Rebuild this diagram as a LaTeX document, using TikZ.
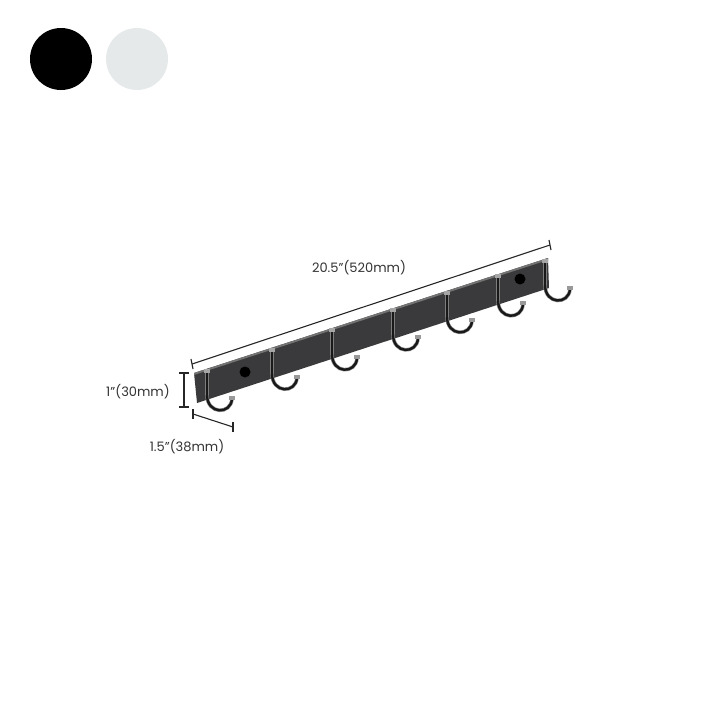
\documentclass[tikz,border=0pt]{standalone}
\usepackage{fontspec}
\setmainfont{Poppins}
\usetikzlibrary{calc}
\definecolor{railgray}{HTML}{3A3A3C}
\definecolor{swatchwhite}{HTML}{E6E9EA}
\tikzset{
  dimline/.style={draw=black!85,line width=1.1pt},
  dimlabel/.style={font=\fontsize{13}{15}\selectfont,text=black!80},
  hookedge/.style={draw=black!45,line width=3.6pt,line cap=round},
  hookline/.style={draw=black!90,line width=2.4pt,line cap=round},
}
\begin{document}
\begin{tikzpicture}[x=1pt,y=-1pt]
\useasboundingbox (0,0) rectangle (720,720);
% colour swatches
\node (blk) at (61,59) [fill=black,circle,minimum size=62pt,inner sep=0pt] {};
\node (wht) at (137,59) [fill=swatchwhite,circle,minimum size=62pt,inner sep=0pt] {};

% rail
\fill[railgray] (194,373) -- (548,258) -- (549,288) -- (197,403) -- cycle;
\fill[black!55] (194,373) -- (548,258) -- (548,260) -- (194,375) -- cycle;
\node (knobl) at (245,372) [fill=black,circle,inner sep=0pt,minimum size=11pt] {};
\node (knobr) at (520,279) [fill=black,circle,inner sep=0pt,minimum size=11pt] {};

% hooks
\foreach \x in {207,272,332,393,447,498,545} {
  \pgfmathsetmacro{\yt}{373-(\x-194)*0.3249}
  \draw[hookedge] (\x,\yt+2) -- (\x,\yt+26)
     .. controls (\x,\yt+46) and (\x+24,\yt+46) .. (\x+25,\yt+30);
  \draw[hookline] (\x,\yt+2) -- (\x,\yt+26)
     .. controls (\x,\yt+46) and (\x+24,\yt+46) .. (\x+25,\yt+30);
  \fill[black!35] (\x-3,\yt) rectangle (\x+3,\yt+4);
  \fill[black!40] (\x+22,\yt+27) rectangle (\x+28,\yt+31);
}

% dimensions
\coordinate (la) at (192,364);
\coordinate (lb) at (550,245);
\draw[dimline] (la) -- (lb);
\draw[dimline] ($(la)+(-1,-5)$) -- ($(la)+(1,5)$);
\draw[dimline] ($(lb)+(-1,-5)$) -- ($(lb)+(1,5)$);
\node[dimlabel] (len) at (359,268) {20.5''(520mm)};

\coordinate (ha) at (184,373);
\coordinate (hb) at (184,407);
\draw[dimline] (ha) -- (hb);
\draw[dimline] ($(ha)+(-5,0)$) -- ($(ha)+(5,0)$);
\draw[dimline] ($(hb)+(-5,0)$) -- ($(hb)+(5,0)$);
\node[dimlabel] (hgt) at (138,392) {1''(30mm)};

\coordinate (da) at (193,414);
\coordinate (db) at (233,427);
\draw[dimline] (da) -- (db);
\draw[dimline] ($(da)+(0,-5)$) -- ($(da)+(0,5)$);
\draw[dimline] ($(db)+(0,-5)$) -- ($(db)+(0,5)$);
\node[dimlabel] (dep) at (187,447) {1.5''(38mm)};
\end{tikzpicture}
\end{document}
